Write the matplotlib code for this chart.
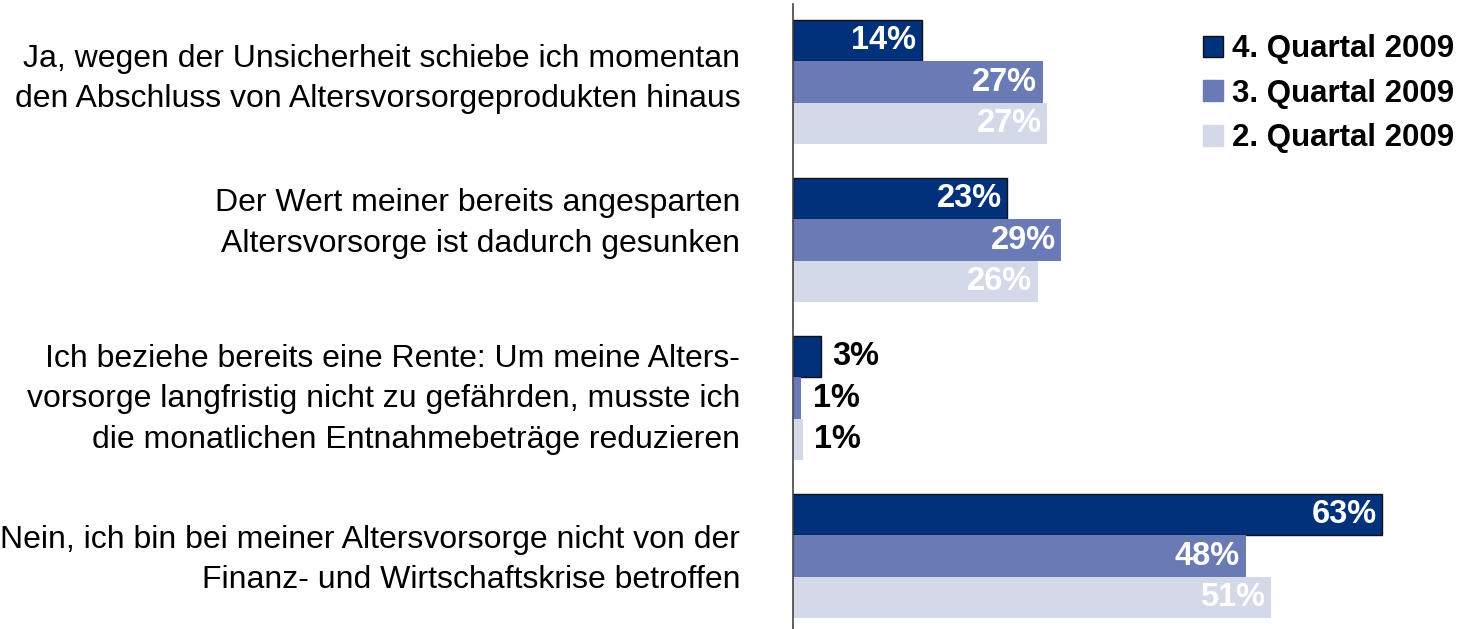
import numpy as np
import matplotlib
matplotlib.use("Agg")
from matplotlib import pyplot as plt
from matplotlib.patches import Patch

plt.rcParams['font.family'] = ['Liberation Sans', 'DejaVu Sans']

categories = [
    "Ja, wegen der Unsicherheit schiebe ich momentan\nden Abschluss von Altersvorsorgeprodukten hinaus",
    "Der Wert meiner bereits angesparten\nAltersvorsorge ist dadurch gesunken",
    "Ich beziehe bereits eine Rente: Um meine Alters-\nvorsorge langfristig nicht zu gefährden, musste ich\ndie monatlichen Entnahmebeträge reduzieren",
    "Nein, ich bin bei meiner Altersvorsorge nicht von der\nFinanz- und Wirtschaftskrise betroffen",
]
series = ["4. Quartal 2009", "3. Quartal 2009", "2. Quartal 2009"]
q4_2009 = [13.8, 22.9, 3.0, 63.0]
q3_2009 = [26.7, 28.7, 0.9, 48.4]
q2_2009 = [27.2, 26.2, 1.1, 51.1]

colors = ["#00317A", "#6A7AB5", "#D4D9EA"]
edges = ["#111111", "none", "none"]

W, H, DPI = 1459, 629, 100
fig = plt.figure(figsize=(W / DPI, H / DPI), dpi=DPI)
ax = fig.add_axes([793 / W, 0, 1 - 793 / W, 625 / H])

px_per_pct = 9.35
bh = 0.263
y = np.arange(len(categories))
for k, (vals, c, ec) in enumerate(zip([q4_2009, q3_2009, q2_2009], colors, edges)):
    yy = y + (k - 1) * bh
    ax.barh(yy, vals, height=bh, color=c, edgecolor=ec, linewidth=1.0 if ec != "none" else 0)
    for v, yi in zip(vals, yy):
        lab = f"{round(v):.0f}%"
        if v > 5:
            ax.annotate(lab, (v, yi), xytext=(-4, 0), textcoords="offset points",
                        ha="right", va="center", color="white", fontsize=23.5, fontweight="bold")
        else:
            ax.annotate(lab, (v, yi), xytext=(8, 0), textcoords="offset points",
                        ha="left", va="center", color="black", fontsize=23.5, fontweight="bold")

ax.set_xlim(0, (W - 793) / px_per_pct)
ax.set_ylim(3.462, -0.494)
for s in ["top", "right", "bottom"]:
    ax.spines[s].set_visible(False)
ax.spines["left"].set_color("#444444")
ax.spines["left"].set_linewidth(1.2)
ax.set_xticks([])
ax.set_yticks([])

# small nudges (points) so the text blocks sit like in the original
nudge = [2, 12, -1, -3]
for i, cat in enumerate(categories):
    ax.annotate(cat, (0, i), xytext=(-38, nudge[i]), textcoords="offset points",
                ha="right", va="center", multialignment="right",
                fontsize=23, linespacing=1.45)

handles = [Patch(facecolor=c, edgecolor=ec if ec != "none" else c) for c, ec in zip(colors, edges)]
ax.legend(handles, series, loc="upper right", bbox_to_anchor=(1.0, 0.959), frameon=False,
          prop={"size": 22.5, "weight": "bold"}, handlelength=0.65, handleheight=0.65,
          handletextpad=0.3, labelspacing=0.46, borderaxespad=0.0, borderpad=0.15)

fig.savefig("out.png", dpi=DPI)
